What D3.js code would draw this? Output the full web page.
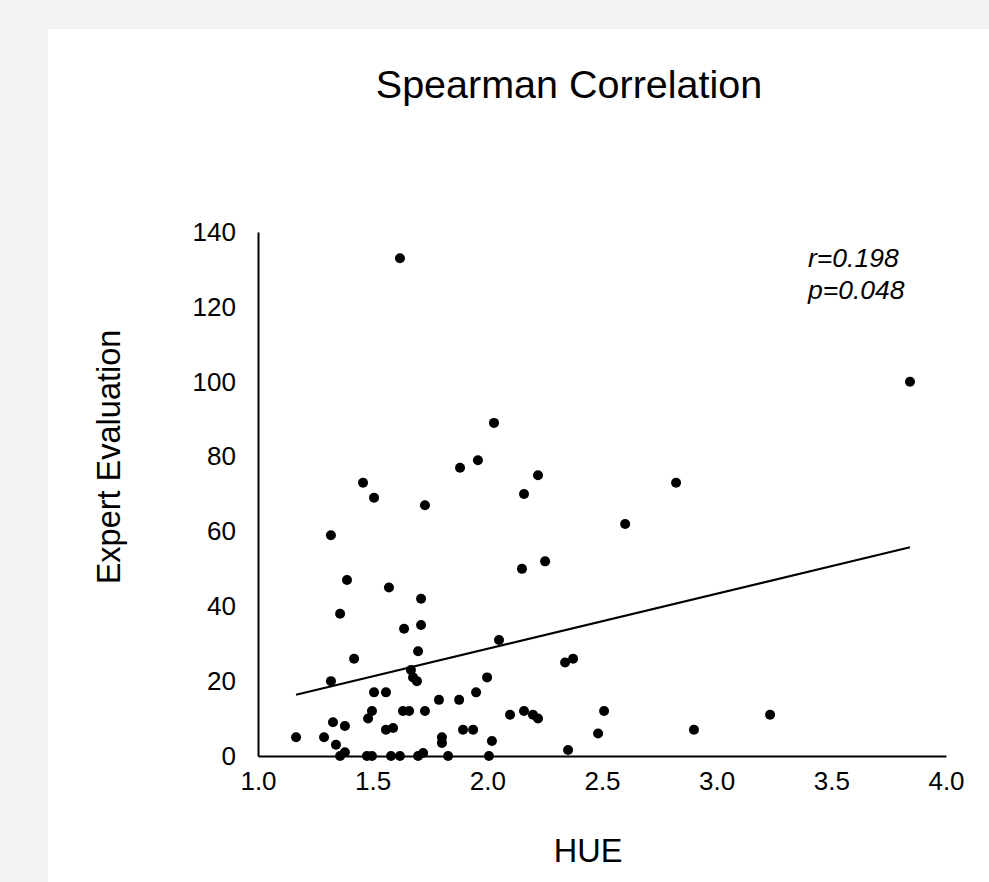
<!DOCTYPE html>
<html>
<head>
<meta charset="utf-8">
<script src="https://cdn.jsdelivr.net/npm/d3@7"></script>
<style>
  html, body { margin: 0; padding: 0; background: #f2f2f2; }
  svg { display: block; }
  text { font-family: "Liberation Sans", Arial, sans-serif; fill: #000; }
</style>
</head>
<body>
<svg id="chart" width="989" height="882"></svg>
<script>
// ---- data ----
const hue = [1.619, 3.843, 2.029, 1.959, 1.881, 2.221, 2.823, 1.458, 1.506, 2.160,
             1.728, 2.601, 1.318, 2.252, 2.151, 1.388, 1.571, 1.711, 1.358, 1.711,
             1.637, 2.051, 1.419, 1.698, 2.374, 2.339, 1.318, 1.667, 1.676, 1.693,
             1.999, 1.506, 1.558, 1.789, 1.877, 1.951, 1.497, 1.480, 1.632, 1.659,
             1.728, 2.099, 2.160, 2.199, 2.221, 2.509, 3.233, 1.327, 1.379, 1.558,
             1.589, 1.894, 1.938, 2.901, 2.483, 1.166, 1.288, 1.802, 1.802, 2.020,
             1.340, 2.352, 1.379, 1.358, 1.475, 1.497, 1.580, 1.619, 1.698, 1.720,
             1.829, 2.007];
const expert = [133, 100, 89, 79, 77, 75, 73, 73, 69, 70,
                67, 62, 59, 52, 50, 47, 45, 42, 38, 35,
                34, 31, 26, 28, 26, 25, 20, 23, 21, 20,
                21, 17, 17, 15, 15, 17, 12, 10, 12, 12,
                12, 11, 12, 11, 10, 12, 11, 9, 8, 7,
                7.5, 7, 7, 7, 6, 5, 5, 5, 3.5, 4,
                3, 1.6, 1, 0, 0, 0, 0, 0, 0, 0.8,
                0, 0];
const xTicks = [1.0, 1.5, 2.0, 2.5, 3.0, 3.5, 4.0];
const yTicks = [0, 20, 40, 60, 80, 100, 120, 140];
const titleText = "Spearman Correlation";
const xLabel = "HUE";
const yLabel = "Expert Evaluation";
const statLines = ["r=0.198", "p=0.048"];

// ---- drawing ----
const svg = d3.select("#chart");
svg.append("rect").attr("x", 48).attr("y", 29).attr("width", 941).attr("height", 853).attr("fill", "#fff");

const x = d3.scaleLinear().domain([1, 4]).range([258, 946]);
const y = d3.scaleLinear().domain([0, 140]).range([756, 232]);

const points = hue.map((h, i) => ({x: h, y: expert[i]}));

// x axis
const gx = svg.append("g").attr("transform", `translate(0,${y(0)})`)
  .call(d3.axisBottom(x).tickValues(xTicks).tickFormat(d3.format(".1f")).tickSize(0).tickPadding(16));
gx.select(".domain").attr("stroke", "#000").attr("stroke-width", 2);
gx.selectAll("text").attr("font-size", 26).attr("font-family", "Liberation Sans, Arial, sans-serif").attr("fill", "#000");

// y axis
const gy = svg.append("g").attr("transform", `translate(${x(1)},0)`)
  .call(d3.axisLeft(y).tickValues(yTicks).tickFormat(d3.format("d")).tickSize(0).tickPadding(22));
gy.select(".domain").attr("stroke", "#000").attr("stroke-width", 2);
gy.selectAll("text").attr("font-size", 26).attr("font-family", "Liberation Sans, Arial, sans-serif").attr("fill", "#000");

// linear trend (least squares)
const mx = d3.mean(points, d => d.x), my = d3.mean(points, d => d.y);
const slope = d3.sum(points, d => (d.x - mx) * (d.y - my)) / d3.sum(points, d => (d.x - mx) ** 2);
const intercept = my - slope * mx;
const [xmin, xmax] = d3.extent(points, d => d.x);
svg.append("line")
  .attr("x1", x(xmin)).attr("y1", y(intercept + slope * xmin))
  .attr("x2", x(xmax)).attr("y2", y(intercept + slope * xmax))
  .attr("stroke", "#000").attr("stroke-width", 2);

// points
svg.append("g").selectAll("circle").data(points).join("circle")
  .attr("cx", d => x(d.x)).attr("cy", d => y(d.y)).attr("r", 5).attr("fill", "#000");

// title
svg.append("text").attr("x", 569).attr("y", 98).attr("text-anchor", "middle")
  .attr("font-size", 39.5).text(titleText);

// axis titles
svg.append("text").attr("x", 588).attr("y", 862).attr("text-anchor", "middle")
  .attr("font-size", 32.5).text(xLabel);
svg.append("text").attr("transform", "translate(120,457) rotate(-90)").attr("text-anchor", "middle")
  .attr("font-size", 32.5).text(yLabel);

// stats
svg.append("g").selectAll("text").data(statLines).join("text")
  .attr("x", 808).attr("y", (d, i) => 267 + i * 32)
  .attr("font-size", 26.5).attr("font-style", "italic").text(d => d);
</script>
</body>
</html>
